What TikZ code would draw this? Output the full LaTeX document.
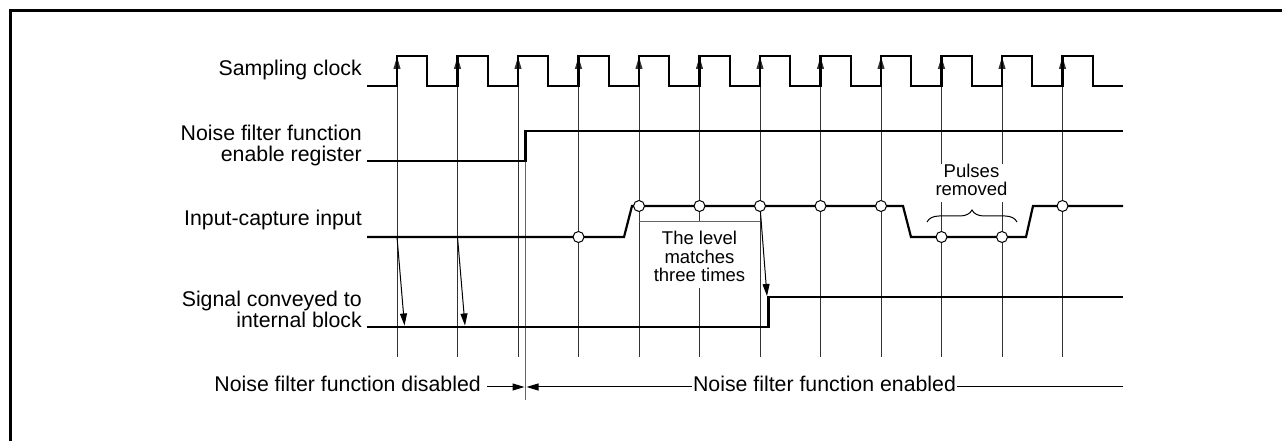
\documentclass[tikz,border=0pt]{standalone}
\usepackage{fontspec}
\setmainfont{Liberation Sans}
\usetikzlibrary{arrows.meta,decorations.pathreplacing}
\begin{document}
\begin{tikzpicture}[x=1bp,y=-1bp,
  wave/.style={line width=2.2bp, line join=miter},
  sampleline/.style={line width=1bp, black!80},
  guide/.style={line width=1bp, black!60},
  thinarrow/.style={line width=1bp, -{Triangle[length=12bp,width=7bp]}},
  sampdot/.style={circle, draw, line width=1bp, fill=white, inner sep=0pt, minimum size=11bp},
  lbl/.style={inner sep=0pt, font=\fontsize{21.3bp}{21bp}\selectfont},
  smalllbl/.style={inner ysep=0pt, inner xsep=2bp, fill=white, font=\fontsize{18.5bp}{18.5bp}\selectfont}]

\useasboundingbox (0,0) rectangle (1282,441);
% frame
\draw[line width=3bp] (10.5,441) -- (10.5,10.5) -- (1282,10.5);

% labels
\node[lbl, anchor=base east] (lclk) at (362,76) {Sampling clock};
\node[lbl, anchor=base east] (lena) at (362,162)
  {\begin{tabular}[b]{@{}r@{}}Noise filter function\\enable register\end{tabular}};
\node[lbl, anchor=base east] (lin) at (362,226) {Input-capture input};
\node[lbl, anchor=base east] (lout) at (362,328)
  {\begin{tabular}[b]{@{}r@{}}Signal conveyed to\\internal block\end{tabular}};

% sampling lines with arrows at rising edges
\foreach \k in {0,...,11}{
  \coordinate (st\k) at ({397+60.5*\k},57);
  \coordinate (sb\k) at ({397+60.5*\k},357);
  \draw[sampleline, -{Triangle[length=12bp,width=7bp]}] (sb\k) -- (st\k);
}

% boundary of enable
\coordinate (bnd1) at (525.5,161);
\coordinate (bnd2) at (525.5,400);
\draw[guide] (bnd1) -- (bnd2);

% sampling clock
\draw[wave] (367,86) foreach \k in {0,...,11} {
  -- ({397+60.5*\k},86) -- ({397+60.5*\k},56)
  -- ({427.25+60.5*\k},56) -- ({427.25+60.5*\k},86) } -- (1123,86);

% enable register
\draw[wave] (367,161) -- (bnd1) -- (525.5,131) -- (1123,131);

% input capture
\draw[wave] (367,237) -- (624,237) -- (632,206) -- (903,206) -- (911,237)
  -- (1026,237) -- (1033,206) -- (1123,206);

% output signal
\draw[wave] (367,327) -- (768.5,327) -- (768.5,297) -- (1123,297);

% level matches text and line
\node[smalllbl, anchor=base] (match) at (699.5,282)
  {\begin{tabular}[b]{@{}c@{}}\rule{0pt}{23bp}The level\\matches\\three times\end{tabular}};
\coordinate (m1) at (639,222);
\coordinate (m2) at (760,222);
\draw[guide] (m1) -- (m2);

% slanted arrows
\coordinate (a0s) at (397,237);
\coordinate (a0e) at (404.5,325.5);
\coordinate (a1s) at (457.5,237);
\coordinate (a1e) at (465,325.5);
\coordinate (a2s) at (760,206);
\coordinate (a2e) at (767,296);
\draw[thinarrow] (a0s) -- (a0e);
\draw[thinarrow] (a1s) -- (a1e);
\draw[thinarrow] (a2s) -- (a2e);

% sample dots
\node[sampdot] (d3) at (578.5,237) {};
\node[sampdot] (d4) at (639,206) {};
\node[sampdot] (d5) at (699.5,206) {};
\node[sampdot] (d6) at (760,206) {};
\node[sampdot] (d7) at (820.5,206) {};
\node[sampdot] (d8) at (881,206) {};
\node[sampdot] (d9) at (941.5,237) {};
\node[sampdot] (d10) at (1002,237) {};
\node[sampdot] (d11) at (1062.5,206) {};

% pulses removed
\coordinate (br1) at (927,222);
\coordinate (br2) at (1017,222);
\draw[line width=1bp, decorate, decoration={brace, amplitude=12bp}] (br1) -- (br2);
\node[smalllbl, anchor=base] (pulses) at (971.5,196)
  {\begin{tabular}[b]{@{}c@{}}Pulses\\removed\end{tabular}};

% bottom
\node[lbl, anchor=base east] (dis) at (481,392) {Noise filter function disabled};
\coordinate (disL) at (487,387);
\coordinate (disR) at (524.5,387);
\draw[thinarrow] (disL) -- (disR);
\coordinate (enL) at (526.5,387);
\coordinate (enR) at (1123,387);
\draw[thinarrow] (enR) -- (enL);
\node[lbl, anchor=base, fill=white, inner xsep=1.5bp] (en) at (824.5,392) {Noise filter function enabled};
\end{tikzpicture}
\end{document}
